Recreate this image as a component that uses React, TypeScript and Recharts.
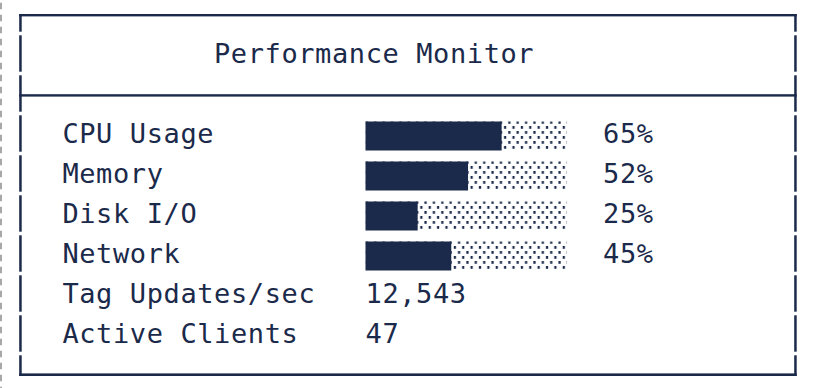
import React from 'react';
import { BarChart, Bar, XAxis, YAxis, Customized } from 'recharts';

// ---- data ----
const metricNames = ['CPU Usage', 'Memory', 'Disk I/O', 'Network', 'Tag Updates/sec', 'Active Clients'];
const usagePct: (number | null)[] = [65, 52, 25, 45, null, null];
const statValues: (number | null)[] = [null, null, null, null, 12543, 47];
const titleText = 'Performance Monitor';

const data = metricNames.map((name, i) => ({ name, pct: usagePct[i], stat: statValues[i] }));

// ---- layout / style ----
const NAVY = '#1b2a4a';
const CW = 16.84;
const X0 = 11.9;
const col = (c: number) => X0 + c * CW;
const CELLS = 12;
const FONT = '"DejaVu Sans Mono", "Liberation Mono", monospace';
const FONT_SIZE = 27;
const LS = 0.6;

const textStyle = {
  fontFamily: FONT,
  fontSize: FONT_SIZE,
  letterSpacing: LS,
  fill: NAVY,
};

const RowTick = (props: any) => {
  const { y, payload } = props;
  const row = data.find((d) => d.name === payload.value);
  if (!row) return <g />;
  const by = y + 7.5;
  return (
    <g>
      <text x={col(3)} y={by} style={textStyle}>{row.name}</text>
      {row.pct != null && (
        <text x={col(35) + 1.8} y={by} style={textStyle}>{`${row.pct}%`}</text>
      )}
      {row.stat != null && (
        <text x={col(21)} y={by} style={textStyle}>{row.stat.toLocaleString('en-US')}</text>
      )}
    </g>
  );
};

const CellBar = (props: any) => {
  const { x, y, width, height, payload, background } = props;
  if (!payload || payload.pct == null || !(width > 0)) return <g />;
  let w = width;
  if (background && background.width > 0) {
    const cell = background.width / CELLS;
    w = Math.round(width / cell) * cell + 1.8;
  }
  return <rect x={x} y={y} width={w} height={height} fill={NAVY} />;
};

const TrackBg = (props: any) => {
  const { x, y, width, height, payload, index } = props;
  const row = payload ?? data[index];
  if (!row || row.pct == null) return <g key={`bg-${index}`} />;
  return <rect key={`bg-${index}`} x={x} y={y} width={width} height={height} fill="url(#shadePattern)" />;
};

const Frame = () => {
  const L = 19.2;
  const R = 794.2;
  const T = 2.5;
  const segs: { y1: number; y2: number }[] = [];
  for (let k = 0; k <= 9; k++) {
    let y1 = 33.5 + 40 * (k - 1) + 1.8;
    let y2 = 33.5 + 40 * k - 1.8;
    if (k === 0) y1 = 14;
    if (k === 9) y2 = 376;
    segs.push({ y1, y2 });
  }
  const pw = (CW * 0.995) / 2;
  return (
    <g>
      <defs>
        <pattern id="shadePattern" patternUnits="userSpaceOnUse" x={365.5} y={121} width={pw} height={10}>
          <rect x={0.3} y={0} width={2.2} height={2.8} fill={NAVY} />
          <rect x={0.3 + pw / 2} y={5} width={2.2} height={2.8} fill={NAVY} />
        </pattern>
      </defs>
      <line x1={1} y1={2.7} x2={1} y2={388} stroke="#a8a8a8" strokeWidth={2} strokeDasharray="6.5 5.5" />
      {/* horizontal rules */}
      <rect x={L} y={14} width={R + T - L} height={2.4} fill={NAVY} />
      <rect x={L} y={94.2} width={R + T - L} height={2.4} fill={NAVY} />
      <rect x={L} y={373.4} width={R + T - L} height={2.6} fill={NAVY} />
      {/* vertical rules */}
      {segs.map((s, i) => (
        <g key={i}>
          <rect x={L} y={s.y1} width={T} height={s.y2 - s.y1} fill={NAVY} />
          <rect x={R} y={s.y1} width={T} height={s.y2 - s.y1} fill={NAVY} />
        </g>
      ))}
      <text x={col(12)} y={63} style={textStyle}>{titleText}</text>
    </g>
  );
};

export default function App() {
  return (
    <div style={{ position: 'absolute', left: 0, top: 0, width: 814, height: 388, background: '#ffffff' }}>
      <BarChart
        width={814}
        height={388}
        data={data}
        layout="vertical"
        margin={{ top: 115.5, right: 247, bottom: 32.5, left: 0 }}
      >
        <Customized component={Frame} />
        <XAxis type="number" domain={[0, 100]} hide />
        <YAxis
          type="category"
          dataKey="name"
          width={365.5}
          axisLine={false}
          tickLine={false}
          tick={<RowTick />}
          interval={0}
        />
        <Bar
          dataKey="pct"
          barSize={29}
          isAnimationActive={false}
          background={TrackBg}
          shape={CellBar}
        />
      </BarChart>
    </div>
  );
}
